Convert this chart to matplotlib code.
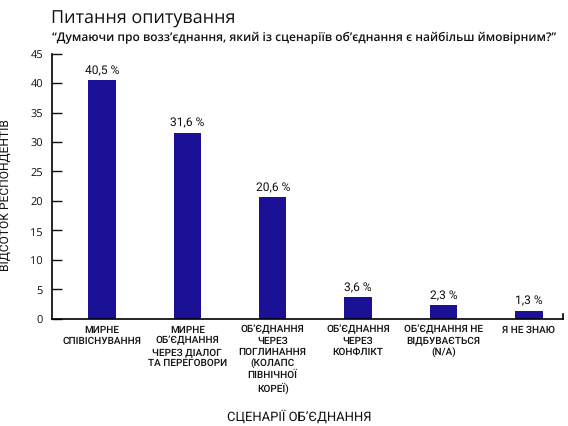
import matplotlib
matplotlib.use("Agg")
import matplotlib.pyplot as plt

plt.rcParams["text.hinting"] = "no_hinting"
plt.rcParams["text.hinting_factor"] = 1

categories = [
    "МИРНЕ\nСПІВІСНУВАННЯ",
    "МИРНЕ\nОБ’ЄДНАННЯ\nЧЕРЕЗ ДІАЛОГ\nТА ПЕРЕГОВОРИ",
    "ОБ’ЄДНАННЯ\nЧЕРЕЗ\nПОГЛИНАННЯ\n(КОЛАПС\nПІВНІЧНОЇ\nКОРЕЇ)",
    "ОБ’ЄДНАННЯ\nЧЕРЕЗ\nКОНФЛІКТ",
    "ОБ’ЄДНАННЯ НЕ\nВІДБУВАЄТЬСЯ\n(N/A)",
    "Я НЕ ЗНАЮ",
]
values = [40.5, 31.6, 20.6, 3.6, 2.3, 1.3]
value_labels = ["40,5 %", "31,6 %", "20,6 %", "3,6 %", "2,3 %", "1,3 %"]
yticks = [0, 5, 10, 15, 20, 25, 30, 35, 40, 45]

title = "Питання опитування"
subtitle = "“Думаючи про возз’єднання, який із сценаріїв об’єднання є найбільш ймовірним?”"
xlabel = "СЦЕНАРІЇ ОБ’ЄДНАННЯ"
ylabel = "ВІДСОТОК РЕСПОНДЕНТІВ"

bar_color = "#1a1197"

fig = plt.figure(figsize=(5.68, 4.27), dpi=100)
ax = fig.add_axes([52/568, 1-319.5/427, (563-52)/568, (319.5-54.7)/427])

x = list(range(len(categories)))
ax.bar(x, values, width=0.32, color=bar_color, zorder=2)
for xi, v, lab in zip(x, values, value_labels):
    ax.text(xi, v + 0.8, lab, ha="center", va="bottom", fontsize=8.4,
            family="Roboto", color="#111111")

ax.set_xlim(-0.585, 5.4)
ax.set_ylim(0, 45)
ax.set_yticks(yticks)
ax.set_yticklabels([str(t) for t in yticks], family="Open Sans", fontsize=8.0)
ax.tick_params(axis="y", direction="in", length=7.2, width=1.0, pad=6.5, colors="#111111")
ax.set_xticks(x)
ax.set_xticklabels(categories, family="Roboto", fontweight="medium", fontsize=7.2,
                   linespacing=1.22, va="top", color="#111111")
ax.tick_params(axis="x", length=0, pad=4)

ax.spines["top"].set_visible(False)
ax.spines["left"].set_linewidth(1.2)
ax.spines["bottom"].set_linewidth(1.2)
ax.spines["right"].set_linewidth(1.2)
ax.spines["right"].set_bounds(0, 0.8)

ax.set_xlabel(xlabel, family="Roboto", fontsize=9.3, color="#111111", va="center")
ax.xaxis.set_label_coords((299-52)/511, -(417-319.5)/264.8)
ax.set_ylabel(ylabel, family="Roboto", fontsize=8.6, color="#111111")
ax.yaxis.set_label_coords(-(52-11)/511, (319.5-195)/264.8)

fig.text(51/568, 1-19/427, title, family="Open Sans", fontsize=13.0, va="center", ha="left", color="#111111")
fig.text(52/568, 1-38/427, subtitle, family="Open Sans", fontsize=8.6, fontweight="semibold",
         va="center", ha="left", color="#111111")

fig.savefig("out.png", dpi=100)
